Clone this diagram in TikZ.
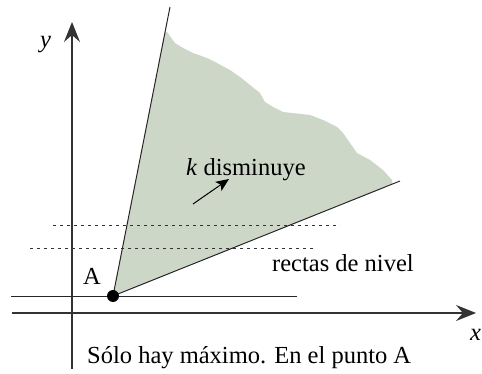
\documentclass[tikz,border=0pt]{standalone}
\usepackage{fontspec}
\setmainfont{Liberation Serif}
\usepackage{tikz}
\usetikzlibrary{arrows.meta}
\definecolor{region}{RGB}{205,215,200}
\tikzset{>=latex}
\tikzset{
eje/.style={line width=1.4pt, black!80, -{Stealth[length=20pt, width=16pt, inset=7pt]}},
recta/.style={line width=1pt, black!85},
nivel/.style={line width=1pt, black!80, dash pattern=on 3pt off 4pt},
}

\begin{document}
\begin{tikzpicture}[x=1pt, y=-1pt, font=\fontsize{24.5}{29}\selectfont]
\useasboundingbox (0,0) rectangle (482,374);
% puntos
\coordinate (A) at (113,296);
\coordinate (L) at (170,7);
\coordinate (R) at (400,181);
\coordinate (xa) at (12,313);
\coordinate (xb) at (476,313);
\coordinate (ya) at (72,369);
\coordinate (yb) at (72,22);
\coordinate (ha) at (11,296);
\coordinate (hb) at (297,296);
\coordinate (n1a) at (53,226);
\coordinate (n1b) at (340,226);
\coordinate (n2a) at (30,249);
\coordinate (n2b) at (315,249);
\coordinate (ka) at (193,204);
\coordinate (kb) at (229,179);
% region factible
\fill[region] (A) -- (165,32) -- (167,32) -- (175,43) -- (183,48) -- (193,53)
  -- (207,58) -- (217,63) -- (230,70) -- (240,77) -- (250,85) -- (260,93)
  -- (265,102) -- (273,107) -- (283,112) -- (310,115) -- (323,120)
  -- (337,127) -- (343,133) -- (350,143) -- (357,153) -- (370,160)
  -- (383,170) -- (392,180) -- (392.5,183.6) -- cycle;
% rectas de nivel
\draw[nivel] (n1a) -- (n1b);
\draw[nivel] (n2a) -- (n2b);
% ejes
\draw[eje] (xa) -- (xb);
\draw[eje] (ya) -- (yb);
\draw[recta] (ha) -- (hb);
\draw[recta] (A) -- (L);
\draw[recta] (A) -- (R);
\fill (A) circle[radius=6pt];
\draw[line width=1pt, -{Stealth[length=13pt, width=11pt, inset=3pt]}] (ka) -- (kb);
% textos
\node[anchor=base west, inner sep=0pt] (lk) at (186,176) {\textit{k} disminuye};
\node[anchor=base west, inner sep=0pt] (lniv) at (272,272) {rectas de nivel};
\node[anchor=base west, inner sep=0pt] (lA) at (83,284) {A};
\node[anchor=base west, inner sep=0pt] (ly) at (40,48) {\textit{y}};
\node[anchor=base west, inner sep=0pt] (lx) at (470,340) {\textit{x}};
\node[anchor=base west, inner sep=0pt] (lsol) at (87,363) {Sólo hay máximo. En el punto A};
\end{tikzpicture}
\end{document}
